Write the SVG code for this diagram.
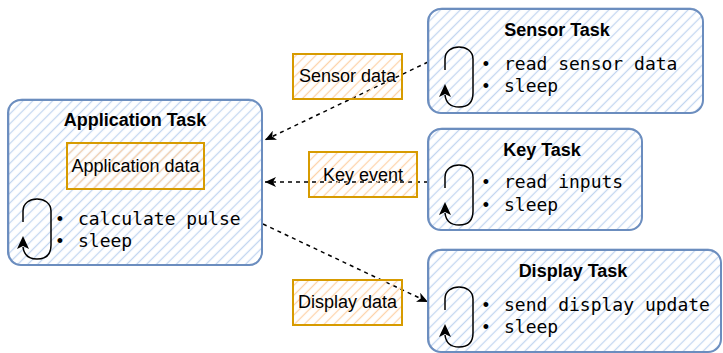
<svg xmlns="http://www.w3.org/2000/svg" xmlns:xlink="http://www.w3.org/1999/xlink" width="723" height="353" viewBox="0 0 723 353">
<style>
.task{fill:url(#hb);stroke:#6c8ebf;stroke-width:2}
.sk{fill:none;stroke:#6c8ebf;stroke-width:1;opacity:0.6}
.lbl{fill:url(#ho);stroke:#d79b00;stroke-width:2}
.title{font-family:"Liberation Sans",Arial,sans-serif;font-weight:bold;font-size:18px;fill:#000;text-anchor:middle}
.txt{font-family:"Liberation Sans",Arial,sans-serif;font-size:18px;fill:#000;text-anchor:middle}
.mono{font-family:"DejaVu Sans Mono",monospace;font-size:18px;fill:#000}
.bul{font-family:"Liberation Sans",Arial,sans-serif;font-size:18px;fill:#000;text-anchor:middle}
.edge{fill:none;stroke:#000;stroke-width:1.5;stroke-dasharray:4 4;marker-end:url(#arr)}
</style>
<defs>
<pattern id="hb" width="7" height="7" patternUnits="userSpaceOnUse" patternTransform="rotate(45)">
<line x1="3.5" y1="0" x2="3.5" y2="7" stroke="#c3d6f0" stroke-width="1.3"/>
</pattern>
<pattern id="ho" width="7" height="7" patternUnits="userSpaceOnUse" patternTransform="rotate(45)">
<line x1="3.5" y1="0" x2="3.5" y2="7" stroke="#fdd3aa" stroke-width="1.3"/>
</pattern>
<marker id="arr" markerWidth="12" markerHeight="10" refX="11" refY="5" orient="auto" markerUnits="userSpaceOnUse">
<path d="M0,0 L11,5 L0,10 L3,5 z" fill="#000"/>
</marker>
<g id="loop">
<path d="M0,23 L0,12 C0,-4 28,-4 28,12 L28,46 C28,58 20,60 14,60 C6,60 1,56 0,48" fill="none" stroke="#000" stroke-width="1.5"/>
<path d="M0,37 L6,50 L0,47 L-6,50 z" fill="#000"/>
</g>
</defs>

<g id="connectors">
<path class="edge" d="M428,62 L265,140"/>
<path class="edge" d="M428,182 L265,182"/>
<path class="edge" d="M263,224 L428,302"/>
</g>

<g id="application-task">
<rect class="task" x="8" y="100" width="254" height="165" rx="13"/>
<rect class="sk" x="9" y="99" width="253" height="166" rx="13"/>
<text class="title" x="135" y="126">Application Task</text>
<rect class="lbl" x="67" y="143" width="137" height="46"/>
<text class="txt" x="135.5" y="172">Application data</text>
<use xlink:href="#loop" x="23" y="199"/>
<text class="bul" x="60" y="225">•</text>
<text class="bul" x="60" y="247">•</text>
<text class="mono" x="78" y="225">calculate pulse</text>
<text class="mono" x="78" y="247">sleep</text>
</g>

<g id="sensor-task">
<rect class="task" x="428" y="9" width="275" height="104" rx="13"/>
<rect class="sk" x="429" y="8" width="274" height="105" rx="13"/>
<text class="title" x="557" y="36">Sensor Task</text>
<use xlink:href="#loop" x="445" y="47"/>
<text class="bul" x="486" y="70">•</text>
<text class="bul" x="486" y="92">•</text>
<text class="mono" x="504" y="70">read sensor data</text>
<text class="mono" x="504" y="92">sleep</text>
</g>

<g id="key-task">
<rect class="task" x="428" y="129" width="214" height="101" rx="13"/>
<rect class="sk" x="429" y="128" width="213" height="102" rx="13"/>
<text class="title" x="542" y="156">Key Task</text>
<use xlink:href="#loop" x="445" y="165"/>
<text class="bul" x="486" y="188">•</text>
<text class="bul" x="486" y="211">•</text>
<text class="mono" x="504" y="188">read inputs</text>
<text class="mono" x="504" y="211">sleep</text>
</g>

<g id="display-task">
<rect class="task" x="428" y="250" width="293" height="102" rx="13"/>
<rect class="sk" x="429" y="249" width="292" height="103" rx="13"/>
<text class="title" x="573" y="277">Display Task</text>
<use xlink:href="#loop" x="445" y="287"/>
<text class="bul" x="486" y="311">•</text>
<text class="bul" x="486" y="333">•</text>
<text class="mono" x="504" y="311">send display update</text>
<text class="mono" x="504" y="333">sleep</text>
</g>

<g id="label-sensor-data">
<rect class="lbl" x="293" y="54" width="109" height="45"/>
<text class="txt" x="347.5" y="82">Sensor data</text>
</g>

<g id="label-key-event">
<rect class="lbl" x="309" y="152" width="108" height="45"/>
<text class="txt" x="363" y="181">Key event</text>
</g>

<g id="label-display-data">
<rect class="lbl" x="293" y="280" width="109" height="45"/>
<text class="txt" x="347.5" y="308">Display data</text>
</g>
</svg>
